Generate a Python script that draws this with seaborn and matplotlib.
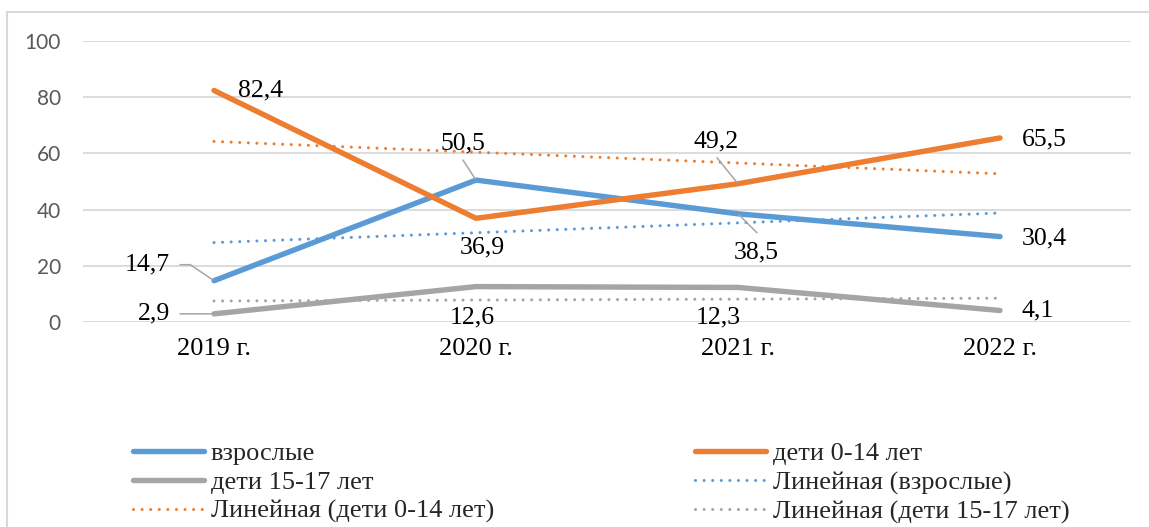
import numpy as np
import pandas as pd
import matplotlib
matplotlib.use("Agg")
import matplotlib.pyplot as plt
from matplotlib.lines import Line2D
from matplotlib.patches import Rectangle
import seaborn as sns

# --- data -------------------------------------------------------------
years = ["2019 г.", "2020 г.", "2021 г.", "2022 г."]
adults = [14.7, 50.5, 38.5, 30.4]
kids_0_14 = [82.4, 36.9, 49.2, 65.5]
kids_15_17 = [2.9, 12.6, 12.3, 4.1]
series_names = ["взрослые", "дети 0-14 лет", "дети 15-17 лет"]
y_ticks = [0, 20, 40, 60, 80, 100]

colors = {"взрослые": "#5B9BD5", "дети 0-14 лет": "#ED7D31", "дети 15-17 лет": "#A5A5A5"}
values = {"взрослые": adults, "дети 0-14 лет": kids_0_14, "дети 15-17 лет": kids_15_17}

idx = np.arange(len(years))
df = pd.concat(
    [pd.DataFrame({"x": idx, "value": values[n], "series": n}) for n in series_names],
    ignore_index=True,
)

sns.set_theme(style="white")
plt.rcParams["font.family"] = ["Liberation Serif", "DejaVu Serif"]

W, H = 1149, 527
fig = plt.figure(figsize=(W / 100, H / 100), dpi=100)
ax = fig.add_axes([83 / W, 1 - 322 / H, (1131 - 83) / W, (322 - 41) / H])

# outer chart frame (light grey, open to the right and bottom)
fig.patches.append(Rectangle((7 / W, -0.1), 1.2, 1 - 12 / H + 0.1, transform=fig.transFigure,
                             fill=False, edgecolor="#D9D9D9", linewidth=1.5, zorder=0))

# grid
for t in y_ticks:
    ax.axhline(t, color="#D9D9D9", lw=1.3, zorder=0)

# linear trendlines
dot_style = (0, (0.01, 2.8))
for n in series_names:
    sns.regplot(x=idx, y=values[n], scatter=False, ci=None, truncate=True, ax=ax,
                line_kws=dict(color=colors[n], lw=2.2, linestyle=dot_style,
                              dash_capstyle="round", zorder=2))

# main series
sns.lineplot(data=df, x="x", y="value", hue="series", palette=colors, sort=False,
             lw=3.9, ax=ax, legend=False, zorder=3, solid_capstyle="round")

ax.set_xlim(-0.5, 3.5)
ax.set_ylim(0, 100)
ax.set_xticks(idx)
ax.set_xticklabels(years, fontsize=19, color="#000000")
ax.set_yticks(y_ticks)
ax.set_yticklabels([str(t) for t in y_ticks], fontsize=15, color="#595959", family="Lato")
ax.tick_params(axis="x", length=0, pad=11.5)
ax.tick_params(axis="y", length=0, pad=16)
ax.set_xlabel("")
ax.set_ylabel("")
for s in ax.spines.values():
    s.set_visible(False)
ax.set_facecolor("none")

# data labels: (series, index, dx px, dy px (down positive), ha)
px = 0.72
labels = [
    ("дети 0-14 лет", 0, 24, 0, "left"),
    ("взрослые", 0, -44, -16, "right"),
    ("дети 15-17 лет", 0, -44, 0, "right"),
    ("взрослые", 1, -13, -37, "center"),
    ("дети 0-14 лет", 1, 6, 29, "center"),
    ("дети 15-17 лет", 1, -4, 31, "center"),
    ("дети 0-14 лет", 2, -22, -42, "center"),
    ("взрослые", 2, 18, 39, "center"),
    ("дети 15-17 лет", 2, -20, 30, "center"),
    ("дети 0-14 лет", 3, 22, 2, "left"),
    ("взрослые", 3, 22, 2, "left"),
    ("дети 15-17 лет", 3, 22, 0, "left"),
]
for n, i, dx, dy, ha in labels:
    v = values[n][i]
    ax.annotate(f"{v:.1f}".replace(".", ","), xy=(i, v), xytext=(dx * px, -dy * px),
                textcoords="offset points", ha=ha, va="center", fontsize=18.5,
                color="#000000", zorder=5)

# leader lines: (series, index, start dx px, start dy px, connection)
leaders = [
    ("взрослые", 0, -34, -16, "angle,angleA=0,angleB=-34,rad=0"),
    ("дети 15-17 лет", 0, -34, 0, "arc3"),
    ("взрослые", 1, -13, -20, "arc3"),
    ("дети 0-14 лет", 2, -21, -26, "arc3"),
    ("взрослые", 2, 19, 19, "arc3"),
]
for n, i, dx, dy, cs in leaders:
    v = values[n][i]
    ax.annotate("", xy=(i, v), xytext=(dx * px, -dy * px), textcoords="offset points",
                arrowprops=dict(arrowstyle="-", color="#A6A6A6", lw=1.1,
                                shrinkA=0, shrinkB=1, connectionstyle=cs), zorder=4)

# legend, two columns placed side by side
def solid(c):
    return Line2D([], [], color=c, lw=3.9, solid_capstyle="round")

def dotted(c):
    return Line2D([], [], color=c, lw=2.2, linestyle=dot_style, dash_capstyle="round")

col1 = [(solid(colors["взрослые"]), "взрослые"),
        (solid(colors["дети 15-17 лет"]), "дети 15-17 лет"),
        (dotted(colors["дети 0-14 лет"]), "Линейная (дети 0-14 лет)")]
col2 = [(solid(colors["дети 0-14 лет"]), "дети 0-14 лет"),
        (dotted(colors["взрослые"]), "Линейная (взрослые)"),
        (dotted(colors["дети 15-17 лет"]), "Линейная (дети 15-17 лет)")]
for items, x0 in ((col1, 133), (col2, 695)):
    fig.legend([h for h, _ in items], [l for _, l in items], loc="upper left",
               bbox_to_anchor=(x0 / W, 1 - 442 / H), bbox_transform=fig.transFigure,
               frameon=False, fontsize=19, borderpad=0, borderaxespad=0,
               handlelength=2.7, handletextpad=0.25, labelspacing=0.2)

fig.savefig("out.png", dpi=100, facecolor="white")
